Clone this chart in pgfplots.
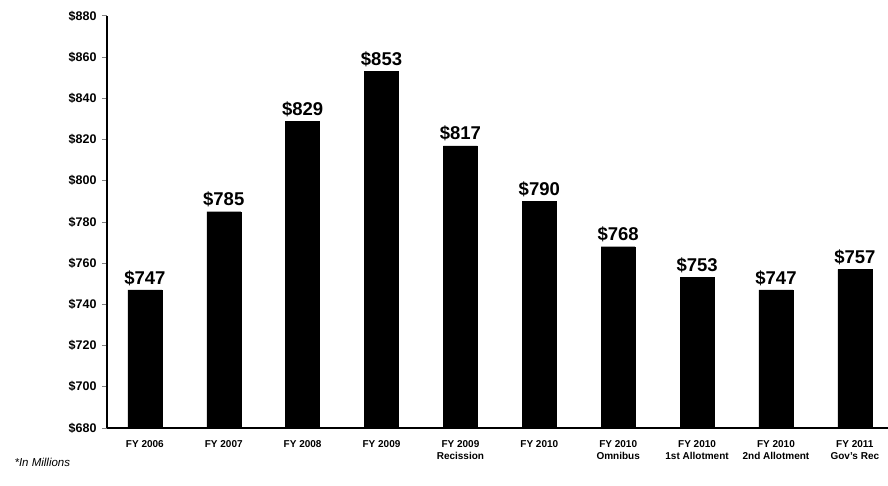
\documentclass[border=0pt]{standalone}
\usepackage{pgfplots}
\pgfplotsset{compat=1.18}
\usepackage{fontspec}
\setmainfont{Liberation Sans}
\begin{document}
\begin{tikzpicture}
\useasboundingbox (-107pt,-57pt) rectangle (781pt,428pt);
\begin{axis}[
  at={(0,0)}, anchor=south west,
  scale only axis, width=781pt, height=412pt,
  xmin=-0.48, xmax=9.42, ymin=680, ymax=880,
  axis lines*=left,
  axis line style={line width=1.2pt},
  ybar, bar width=34pt,
  ytick={680,700,...,880},
  yticklabel={\$\pgfmathprintnumber{\tick}},
  /pgf/number format/assume math mode=true,
  yticklabel style={font=\fontsize{12.5}{13}\selectfont\bfseries, xshift=-2pt},
  ytick style={line width=1pt},
  tick align=outside, major tick length=5pt,
  xtick={0,...,9},
  xticklabels={{FY 2006},{FY 2007},{FY 2008},{FY 2009},{FY 2009\\Recission},{FY 2010},{FY 2010\\Omnibus},{FY 2010\\1st Allotment},{FY 2010\\2nd Allotment},{FY 2011\\Gov's Rec}},
  xticklabel style={font=\fontsize{10}{12}\selectfont\bfseries, align=center, anchor=north, yshift=-4pt},
  x tick style={draw=none},
  extra x ticks={0.5,1.5,2.5,3.5,4.5,5.5,6.5,7.5,8.5},
  extra x tick labels={},
  extra x tick style={tick style={draw=black, line width=1pt}, major tick length=4pt},
  nodes near coords={\$\pgfmathprintnumber{\pgfplotspointmeta}},
  nodes near coords style={font=\fontsize{18.5}{20}\selectfont\bfseries, yshift=1pt},
  clip=false,
]
\addplot[fill=black, draw=black] coordinates {
 (0,747) (1,785) (2,829) (3,853) (4,817) (5,790) (6,768) (7,753) (8,747) (9,757)
};
\end{axis}
\node[anchor=west, font=\fontsize{11.5}{12}\selectfont\itshape] at (-96pt,-34pt) {*In Millions};
\end{tikzpicture}
\end{document}
